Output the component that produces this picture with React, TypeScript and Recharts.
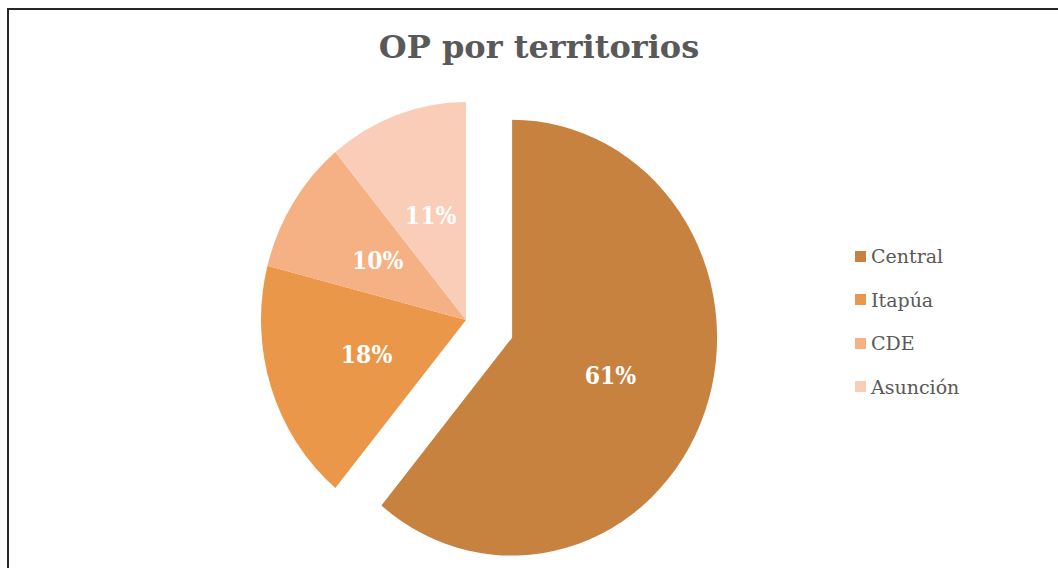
import { PieChart, Pie, Cell } from 'recharts'

const territories = ['Central', 'Itapúa', 'CDE', 'Asunción']
const shares = [61, 18, 10, 11]
const colors = ['#C8823F', '#EB9749', '#F5B183', '#FACDB9']

const data = territories.map((name, i) => ({ name, value: shares[i] }))

// page position of the pie centre (chart margin is 5px)
const CX = 466
const CY = 320
const MARGIN = 5
const R = 205
const EXPLODE = 49
const RAD = Math.PI / 180

const total = shares.reduce((a, b) => a + b, 0)
const centralSweep = (360 * shares[0]) / total
const centralMid = 90 - centralSweep / 2
const shiftX = EXPLODE * Math.cos(centralMid * RAD)
const shiftY = -EXPLODE * Math.sin(centralMid * RAD)

const serif = '"DejaVu Serif", "Liberation Serif", serif'

const renderLabel = (props: any) => {
  const { cx, cy, midAngle, outerRadius, index, percent } = props
  const r = outerRadius * 0.51 + (index === 0 ? EXPLODE : 0)
  const x = cx + r * Math.cos(-midAngle * RAD)
  const y = cy + r * Math.sin(-midAngle * RAD)
  return (
    <text
      x={x}
      y={y}
      fill='#fff'
      textAnchor='middle'
      dominantBaseline='central'
      style={{ fontFamily: serif, fontWeight: 700, fontSize: 22 }}
    >
      {`${Math.round(percent * 100)}%`}
    </text>
  )
}

export default function App() {
  return (
    <div style={{ position: 'absolute', left: 0, top: 0, width: 1058, height: 568, overflow: 'hidden', background: '#fff' }}>
      <div
        style={{
          position: 'absolute',
          left: 7,
          top: 8,
          width: 1100,
          height: 600,
          borderLeft: '2px solid #262626',
          borderTop: '2px solid #262626',
        }}
      />
      <div
        style={{
          position: 'absolute',
          left: 0,
          width: 1078,
          top: 27,
          textAlign: 'center',
          fontFamily: serif,
          fontWeight: 700,
          fontSize: 32,
          color: '#595959',
          lineHeight: '40px',
        }}
      >
        OP por territorios
      </div>
      <div style={{ position: 'absolute', left: 0, top: 0, transform: 'scaleY(1.063)', transformOrigin: `${CX}px ${CY}px` }}>
        <PieChart width={1058} height={568}>
          <Pie
            data={[data[0]]}
            dataKey='value'
            cx={CX - MARGIN + shiftX}
            cy={CY - MARGIN + shiftY}
            outerRadius={R}
            startAngle={90}
            endAngle={90 - centralSweep}
            stroke='none'
            isAnimationActive={false}
          >
            <Cell fill={colors[0]} />
          </Pie>
          <Pie
            data={data}
            dataKey='value'
            cx={CX - MARGIN}
            cy={CY - MARGIN}
            outerRadius={R}
            startAngle={90}
            endAngle={-270}
            stroke='none'
            label={renderLabel}
            labelLine={false}
            isAnimationActive={false}
          >
            {data.map((entry, index) => (
              <Cell key={`cell-${index}`} fill={index === 0 ? 'transparent' : colors[index]} />
            ))}
          </Pie>
        </PieChart>
      </div>
      {territories.map((name, i) => (
        <div
          key={name}
          style={{
            position: 'absolute',
            left: 855,
            top: 256 + i * 43.5 - 12,
            height: 24,
            display: 'flex',
            alignItems: 'center',
            fontFamily: serif,
            fontSize: 19,
            color: '#595959',
          }}
        >
          <span style={{ width: 11, height: 11, background: colors[i], marginRight: 5, display: 'inline-block' }} />
          <span>{name}</span>
        </div>
      ))}
    </div>
  )
}
